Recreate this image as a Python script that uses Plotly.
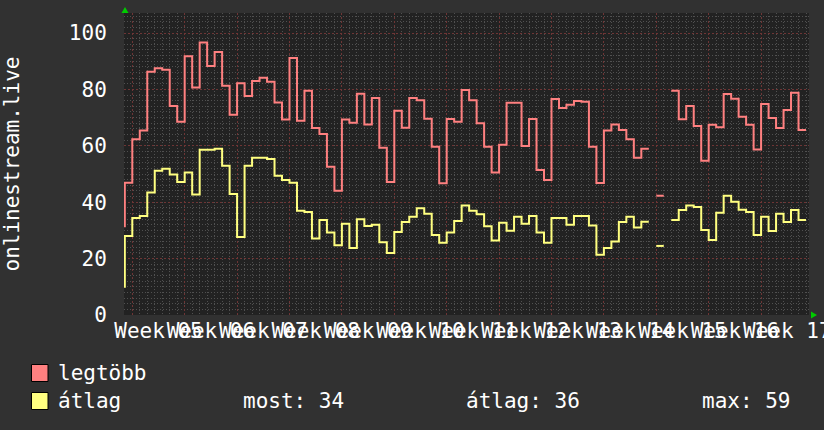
import plotly.graph_objects as go

# ---------------- data (daily values, day 0 = Monday of Week 05) ----------------
days = list(range(-2, 90))

legtobb = [31.5, 46.9,
           62.3, 65.4, 86.3, 87.5, 87.0, 74.1, 68.5,
           91.8, 80.7, 96.6, 88.3, 93.3, 81.3, 71.0,
           82.2, 77.7, 83.0, 84.1, 82.7, 75.4, 69.3,
           91.1, 68.9, 79.5, 66.3, 64.2, 52.6, 44.1,
           69.3, 68.2, 78.5, 67.6, 77.0, 59.3, 47.2,
           72.4, 66.4, 77.0, 76.2, 69.6, 59.7, 46.7,
           69.5, 68.5, 79.8, 76.2, 68.0, 59.7, 50.5,
           60.4, 75.3, 75.3, 59.9, 69.5, 51.4, 47.9,
           76.6, 73.4, 74.6, 75.9, 75.6, 59.7, 46.8,
           65.4, 67.6, 65.6, 62.3, 55.8, 59.0, None,
           42.3, None, 79.5, 69.4, 74.1, 67.0, 54.7,
           67.5, 66.6, 78.4, 76.7, 70.3, 67.5, 58.7,
           74.8, 69.9, 66.3, 72.7, 78.8, 65.6]

atlag = [10.0, 28.0,
         34.4, 35.1, 43.4, 51.2, 51.9, 49.8, 47.2,
         50.5, 42.7, 58.6, 58.6, 59.0, 52.9, 42.9,
         27.7, 52.9, 55.8, 55.8, 55.3, 49.4, 47.9,
         46.9, 37.0, 36.5, 27.1, 33.7, 29.3, 24.7,
         32.4, 23.8, 34.0, 31.6, 32.0, 25.8, 22.0,
         29.4, 33.0, 34.8, 37.9, 35.9, 28.4, 25.6,
         29.3, 33.3, 38.8, 37.0, 35.7, 31.5, 26.4,
         32.7, 29.9, 34.8, 32.4, 35.1, 29.3, 25.6,
         34.4, 34.4, 32.0, 35.1, 35.1, 31.7, 21.4,
         23.8, 26.1, 33.0, 34.8, 31.0, 33.1, None,
         24.5, None, 33.7, 37.2, 38.8, 38.3, 30.1,
         26.6, 36.3, 42.3, 40.2, 37.3, 36.5, 28.4,
         34.8, 29.8, 35.9, 33.0, 37.2, 33.7]

week_labels = ["Week 05", "Week 06", "Week 07", "Week 08", "Week 09", "Week 10",
               "Week 11", "Week 12", "Week 13", "Week 14", "Week 15", "Week 16",
               "Week 17"]
week_label_pos = [3.5 + 7 * i for i in range(len(week_labels))]

y_title = "onlinestream.live"
legend_names = ["legtöbb", "átlag"]
legend_stats = ["most: 34", "átlag: 36", "max: 59"]

# ---------------- styling ----------------
W, H = 824, 430
L, R, T, B = 124, 15, 13, 115
PW, PH = W - L - R, H - T - B
X_RANGE = [-1.108, 90.4]
Y_RANGE = [0, 107.1]
RED = "#ff8080"
YEL = "#ffff80"
MAJ = "#6e3535"
MIN = "#505050"
FONT = "DejaVu Sans Mono"


def steps(ds, vs):
    xs, ys = [], []
    for d, v in zip(ds, vs):
        if v is None:
            if xs and ys[-1] is not None:
                xs.append(d)
                ys.append(None)
            continue
        xs += [d, d + 1]
        ys += [v, v]
    return xs, ys


def px(xp):
    return (xp - L) / PW


def py(yp):
    return (T + PH - yp) / PH


fig = go.Figure()
for vals, col in [(legtobb, RED), (atlag, YEL)]:
    sx, sy = steps(days, vals)
    fig.add_trace(go.Scatter(x=sx, y=sy, mode="lines", line=dict(color=col, width=2),
                             connectgaps=False, showlegend=False, hoverinfo="skip"))

# invisible trace for the label axis
fig.add_trace(go.Scatter(x=[X_RANGE[0]], y=[None], xaxis="x2", yaxis="y", mode="lines",
                         showlegend=False, hoverinfo="skip"))

fig.update_layout(
    width=W, height=H, autosize=False,
    margin=dict(l=L, r=R, t=T, b=B, pad=0, autoexpand=False),
    paper_bgcolor="#313131", plot_bgcolor="#222222",
    font=dict(family=FONT, size=21, color="#ffffff"),
    showlegend=False,
    xaxis=dict(range=X_RANGE, tickmode="linear", tick0=0, dtick=7, showticklabels=False,
               showgrid=True, gridcolor=MAJ, griddash="2px,2px", gridwidth=1,
               minor=dict(tick0=0, dtick=1, showgrid=True, gridcolor=MIN, griddash="1px,2px"),
               zeroline=False, ticks="", showline=False, automargin=False),
    xaxis2=dict(range=X_RANGE, overlaying="x", anchor="y", side="bottom",
                tickmode="array", tickvals=week_label_pos, ticktext=week_labels,
                tickangle=0, showgrid=False, zeroline=False, showline=False,
                ticks="", ticklabelstandoff=1, ticklabeloverflow="allow", automargin=False,
                tickfont=dict(family=FONT, size=21, color="#ffffff")),
    yaxis=dict(range=Y_RANGE, tickmode="linear", tick0=0, dtick=20,
               showgrid=True, gridcolor=MAJ, griddash="2px,2px", gridwidth=1,
               minor=dict(tick0=0, dtick=2, showgrid=True, gridcolor=MIN, griddash="1px,2px"),
               zeroline=False, showline=False, automargin=False,
               ticks="outside", ticklen=12, tickcolor="rgba(0,0,0,0)",
               tickfont=dict(family=FONT, size=21, color="#ffffff")),
)

# y-axis title
fig.add_annotation(text=y_title, xref="paper", yref="paper", x=px(11.5), y=py(164),
                   xanchor="center", yanchor="middle", textangle=-90, showarrow=False,
                   font=dict(family=FONT, size=21, color="#ffffff"))

# legend
for name, col, yc in [(legend_names[0], RED, 373), (legend_names[1], YEL, 401)]:
    fig.add_shape(type="rect", xref="paper", yref="paper",
                  x0=px(31.5), x1=px(48), y0=py(yc - 8.5), y1=py(yc + 8.5),
                  fillcolor=col, line=dict(color="#000000", width=1))
    fig.add_annotation(text=name, xref="paper", yref="paper", x=px(56), y=py(yc),
                       xanchor="left", yanchor="middle", showarrow=False,
                       font=dict(family=FONT, size=21, color="#ffffff"))
for txt, xl in zip(legend_stats, [241, 464, 700]):
    fig.add_annotation(text=txt, xref="paper", yref="paper", x=px(xl), y=py(401),
                       xanchor="left", yanchor="middle", showarrow=False,
                       font=dict(family=FONT, size=21, color="#ffffff"))

# axis arrows (rrdtool style)
fig.add_shape(type="path", xref="paper", yref="paper",
              path=f"M {px(121.5)} {py(13)} L {px(128.5)} {py(13)} L {px(125)} {py(7)} Z",
              fillcolor="#00cc00", line=dict(width=0))
fig.add_shape(type="path", xref="paper", yref="paper",
              path=f"M {px(811)} {py(311.5)} L {px(811)} {py(318.5)} L {px(817)} {py(315)} Z",
              fillcolor="#00cc00", line=dict(width=0))

fig.write_html(
    "out.html",
    config={"displayModeBar": False, "staticPlot": True, "responsive": False},
    post_script=("document.documentElement.style.margin='0';"
                 "document.documentElement.style.overflow='hidden';"
                 "document.body.style.margin='0';"
                 "document.body.style.overflow='hidden';"
                 "document.body.style.background='#313131';"),
)
